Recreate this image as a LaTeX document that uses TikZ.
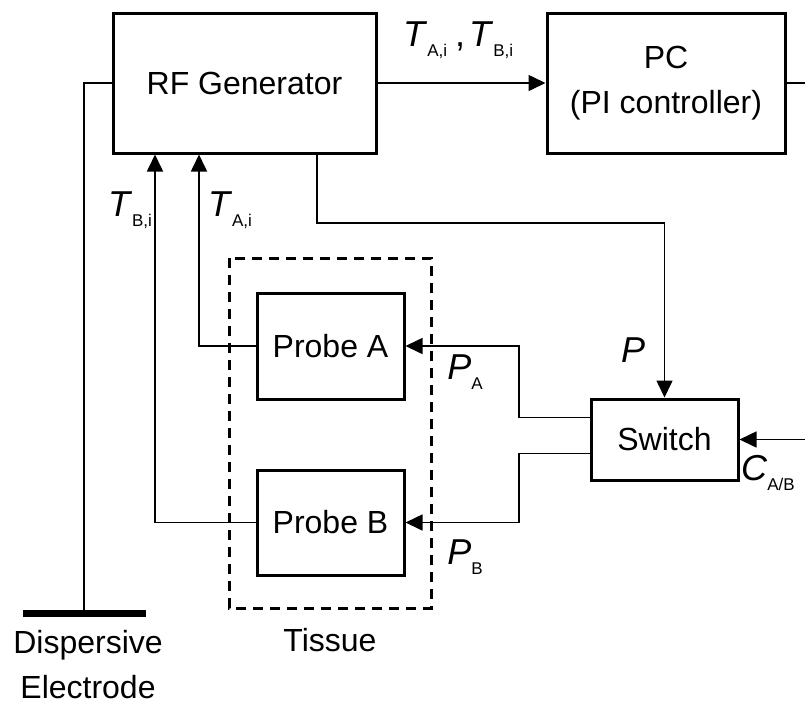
\documentclass[tikz,border=0pt]{standalone}
\usepackage{fontspec}
\setmainfont{Liberation Sans}
\usetikzlibrary{arrows.meta}
\newcommand\symsub[2]{\textit{#1}\kern0pt\raisebox{-10pt}{\fontsize{17}{17}\selectfont #2}}
\begin{document}
\begin{tikzpicture}[x=1pt,y=-1pt,
  blk/.style={draw,line width=3pt,rectangle,inner sep=0pt,font=\fontsize{32}{45}\selectfont,align=center},
  wire/.style={line width=1.6pt},
  arr/.style={line width=1.6pt,-{Triangle[length=17pt,width=16pt]}},
  lbl/.style={font=\fontsize{36}{40}\selectfont,inner sep=0pt},
  txt/.style={font=\fontsize{32}{45}\selectfont,align=center,inner sep=0pt}]
\useasboundingbox (0,0) rectangle (805,705);
% blocks
\node[blk,minimum width=263pt,minimum height=140pt] (rf) at (244.5,83) {RF Generator};
\node[blk,minimum width=238pt,minimum height=140pt] (pc) at (666,83) {PC\\(PI controller)};
\node[blk,minimum width=147pt,minimum height=106pt] (pa) at (330.5,346) {Probe A};
\node[blk,minimum width=147pt,minimum height=105pt] (pb) at (330.5,522.5) {Probe B};
\node[blk,minimum width=147pt,minimum height=81pt] (sw) at (664.5,439.5) {Switch};
% tissue
\draw[line width=3pt,dash pattern=on 10pt off 7pt] (229,258) rectangle (431,608);
\node[txt] (tis) at (330,640) {Tissue};
% electrode
\coordinate (el) at (84,613);
\draw[line width=7pt] (23,613) -- (146,613);
\node[txt] (dis) at (88,665) {Dispersive\\Electrode};
% columns
\coordinate (ta) at (199,0);
\coordinate (tb) at (155,0);
\coordinate (pcol) at (519,0);
\coordinate (rfo) at (317,0);
\coordinate (swx) at (664.5,223);
\coordinate (pcout) at (805,83);
\coordinate (cin) at (805,439.5);
% connectors
\draw[wire] (rf.west) -| (el);
\draw[arr] (rf.east) -- (pc.west);
\draw[wire] (pc.east) -- (pcout);
\draw[arr] (rfo |- rf.south) |- (swx) -- (sw.north);
\draw[arr] (pa.west) -| (ta |- rf.south);
\draw[arr] (pb.west) -| (tb |- rf.south);
\draw[arr] ([yshift=22pt]sw.west) -| (pcol |- pa.east) -- (pa.east);
\draw[arr] ([yshift=-14pt]sw.west) -| (pcol |- pb.east) -- (pb.east);
\draw[arr] (cin) -- (sw.east);
% labels
\node[lbl,anchor=west] (l1) at (403,40) {\symsub{T}{A,i}\hspace{8pt},\hspace{4pt}\symsub{T}{B,i}};
\node[lbl] (l2) at (130,210) {\symsub{T}{B,i}};
\node[lbl] (l3) at (230,210) {\symsub{T}{A,i}};
\node[lbl] (l4) at (633,350) {\textit{P}};
\node[lbl] (l5) at (465,372) {\symsub{P}{A}};
\node[lbl] (l6) at (465,557) {\symsub{P}{B}};
\node[lbl] (l7) at (768,473) {\symsub{C}{A/B}};
\end{tikzpicture}
\end{document}
